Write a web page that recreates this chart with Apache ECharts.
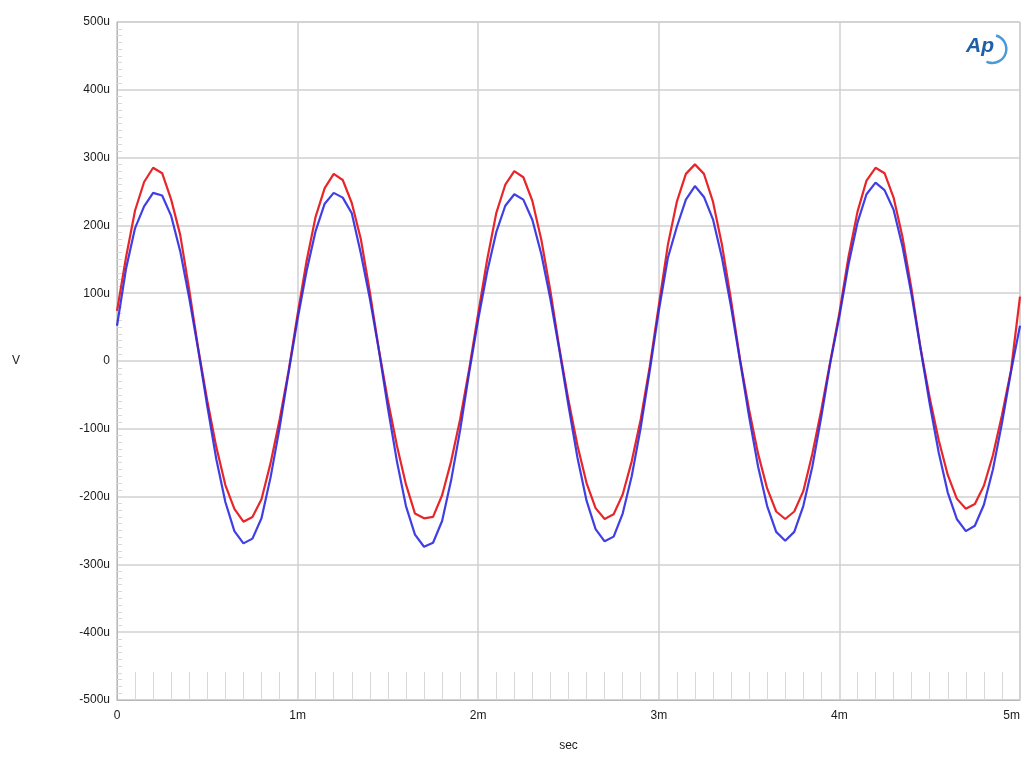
<!DOCTYPE html>
<html>
<head>
<meta charset="utf-8">
<script src="https://cdn.jsdelivr.net/npm/echarts@6/dist/echarts.min.js"></script>
<style>
  html, body { margin: 0; padding: 0; background: #fff; }
  #chart { width: 1025px; height: 765px; }
</style>
</head>
<body>
<div id="chart"></div>
<script>
// sample spacing of both traces, in ms
var timeStepMs = 0.05;

// tick values (x in ms, y in uV)
var xTicks = [0, 1, 2, 3, 4, 5];
var yTicks = [-500, -400, -300, -200, -100, 0, 100, 200, 300, 400, 500];

// red trace, uV, one value every 0.05 ms from 0 to 5 ms
var redUv = [
  74, 153, 222, 264, 285, 277, 238, 186, 105, 18, -59, -127, -183, -218, -237, -230, -204, -151, -87, -15,
  69, 148, 213, 255, 276, 267, 233, 180, 102, 17, -58, -125, -182, -225, -232, -230, -198, -148, -86, -12,
  70, 150, 218, 260, 280, 271, 236, 178, 103, 18, -58, -125, -180, -217, -233, -226, -197, -148, -86, -8,
  82, 171, 235, 276, 290, 276, 235, 171, 90, 2, -72, -137, -188, -222, -233, -222, -192, -137, -72, 0,
  71, 153, 220, 266, 285, 277, 241, 182, 105, 18, -54, -117, -168, -203, -218, -211, -184, -139, -80, -14,
  95
];

// blue trace, uV, same sampling
var blueUv = [
  52, 136, 196, 228, 248, 244, 214, 162, 93, 16, -67, -145, -208, -251, -269, -262, -232, -172, -99, -17,
  62, 133, 192, 232, 248, 241, 218, 159, 92, 16, -69, -148, -214, -256, -274, -268, -236, -176, -102, -17,
  61, 132, 190, 229, 246, 238, 208, 157, 91, 15, -66, -143, -206, -248, -266, -259, -225, -170, -98, -14,
  74, 152, 198, 238, 258, 242, 209, 152, 80, 0, -82, -156, -214, -252, -265, -252, -214, -156, -82, -2,
  66, 142, 204, 246, 263, 252, 223, 168, 97, 17, -63, -135, -194, -233, -251, -243, -212, -160, -92, -16,
  52
];

function pairs(values) {
  return values.map(function (v, i) { return [+(i * timeStepMs).toFixed(2), v]; });
}

var labelFont = { fontFamily: 'Liberation Sans, Arial, sans-serif', fontSize: 12, color: '#1a1a1a' };
var gridLine = { lineStyle: { color: '#d0d0d0', width: 1.5 } };

var chart = echarts.init(document.getElementById('chart'), null, { renderer: 'canvas' });
chart.setOption({
  animation: false,
  backgroundColor: '#fff',
  grid: {
    left: 117, right: 5, top: 22, bottom: 65,
    show: true, borderColor: '#b8b8b8', borderWidth: 1
  },
  xAxis: {
    type: 'value',
    min: xTicks[0], max: xTicks[xTicks.length - 1], interval: 1,
    name: 'sec', nameLocation: 'middle', nameGap: 40,
    nameTextStyle: labelFont,
    axisLine: { show: true, onZero: false, lineStyle: { color: '#b8b8b8' } },
    axisTick: { show: false, inside: true },
    minorTick: { show: true, splitNumber: 10, length: 28, lineStyle: { color: '#d8d8d8', width: 1 } },
    axisLabel: Object.assign({
      margin: 10, alignMaxLabel: 'right',
      formatter: function (v) { return v === 0 ? '0' : v + 'm'; }
    }, labelFont),
    splitLine: gridLine
  },
  yAxis: {
    type: 'value',
    min: yTicks[0], max: yTicks[yTicks.length - 1], interval: 100,
    name: 'V', nameLocation: 'middle', nameRotate: 0, nameGap: 97,
    nameTextStyle: labelFont,
    axisLine: { show: true, onZero: false, lineStyle: { color: '#b8b8b8' } },
    axisTick: { show: false, inside: true },
    minorTick: { show: true, splitNumber: 10, length: 5, lineStyle: { color: '#d8d8d8', width: 1 } },
    axisLabel: Object.assign({
      margin: 7,
      formatter: function (v) { return v === 0 ? '0' : v + 'u'; }
    }, labelFont),
    splitLine: gridLine
  },
  series: [
    {
      name: 'red', type: 'line', data: pairs(redUv),
      showSymbol: false, symbol: 'none', smooth: false,
      lineStyle: { color: '#e8262a', width: 2.2 },
      z: 2
    },
    {
      name: 'blue', type: 'line', data: pairs(blueUv),
      showSymbol: false, symbol: 'none', smooth: false,
      lineStyle: { color: '#2a2ae0', width: 2.2, opacity: 0.9 },
      z: 3
    }
  ],
  graphic: [
    {
      type: 'arc', left: 984, top: 33,
      shape: { cx: 14, cy: 14, r: 14, startAngle: -1.3, endAngle: 2.0 },
      style: { stroke: '#4a9ad6', lineWidth: 2.5, fill: null }
    },
    {
      type: 'text', left: 966, top: 36,
      style: {
        text: 'Ap', fill: '#1f5fa8',
        font: 'italic bold 21px Liberation Sans, Arial, sans-serif'
      }
    }
  ]
});
</script>
</body>
</html>
